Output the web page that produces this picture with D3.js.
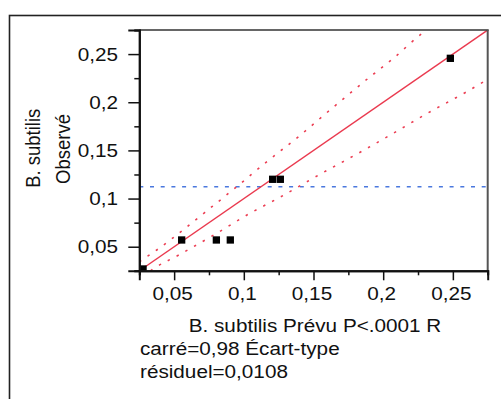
<!DOCTYPE html>
<html>
<head>
<meta charset="utf-8">
<script src="https://cdn.jsdelivr.net/npm/d3@7"></script>
<style>
  html, body { margin: 0; padding: 0; background: #fff; }
  svg { display: block; }
  text { font-family: "Liberation Sans", Arial, sans-serif; fill: #111; }
</style>
</head>
<body>
<svg id="chart" width="501" height="399"></svg>
<script>
// Observed vs predicted values (B. subtilis)
const predicted = [0.0277, 0.0554, 0.0803, 0.0903, 0.1207, 0.1262, 0.2482];
const observed  = [0.0269, 0.0570, 0.0570, 0.0570, 0.1200, 0.1200, 0.2456];

// Fitted line (slope, intercept) and mean of observed
const fitCoef = [1.0, 0.0];
const meanObserved = [0.1122];

// Confidence curves around the fit
const upperBandX = [0.0250, 0.0262, 0.0375, 0.0494, 0.0721, 0.0949, 0.1171, 0.1398, 0.1618, 0.1893, 0.2073, 0.2288, 0.2310];
const upperBandY = [0.0343, 0.0355, 0.0466, 0.0594, 0.0857, 0.1123, 0.1390, 0.1649, 0.1919, 0.2249, 0.2456, 0.2726, 0.2750];
const lowerBandX = [0.0330, 0.0346, 0.0542, 0.0793, 0.1044, 0.1236, 0.1559, 0.1821, 0.2073, 0.2324, 0.2587, 0.2718, 0.2750];
const lowerBandY = [0.0250, 0.0266, 0.0421, 0.0629, 0.0847, 0.0995, 0.1262, 0.1470, 0.1678, 0.1891, 0.2099, 0.2210, 0.2237];

// Axis ticks
const majorTicks = [0.05, 0.10, 0.15, 0.20, 0.25];
const minorTicks = [0.025, 0.075, 0.125, 0.175, 0.225, 0.275];
const tickLabels = ["0,05", "0,1", "0,15", "0,2", "0,25"];

// Texts
const yTitle = ["B. subtilis", "Observé"];
const xTitle = "B. subtilis Prévu P<.0001 R";
const statsLines = ["carré=0,98 Écart-type", "résiduel=0,0108"];

const svg = d3.select("#chart");
const X0 = 139.3, X1 = 487.7, Y0 = 270.8, Y1 = 30;
const x = d3.scaleLinear().domain([0.025, 0.275]).range([X0, X1]);
const y = d3.scaleLinear().domain([0.025, 0.275]).range([Y0, Y1]);
const STRETCH = 1.12;
const FS = 18.5;

// outer frame (runs past the right and bottom edges)
svg.append("rect")
  .attr("x", 9.5).attr("y", 15.5).attr("width", 700).attr("height", 700)
  .attr("fill", "none").attr("stroke", "#222").attr("stroke-width", 1.6);

svg.append("defs").append("clipPath").attr("id", "plotClip")
  .append("rect").attr("x", X0).attr("y", Y1).attr("width", X1 - X0).attr("height", Y0 - Y1);

const plot = svg.append("g").attr("clip-path", "url(#plotClip)");

// mean line
plot.append("line")
  .attr("x1", X0).attr("x2", X1)
  .attr("y1", y(meanObserved[0])).attr("y2", y(meanObserved[0]))
  .attr("stroke", "#4a78de").attr("stroke-width", 1.6)
  .attr("stroke-dasharray", "4 6.7");

// confidence curves
const band = d3.line().x(d => x(d[0])).y(d => y(d[1])).curve(d3.curveMonotoneX);
[[upperBandX, upperBandY], [lowerBandX, lowerBandY]].forEach(([bx, by]) => {
  plot.append("path")
    .attr("d", band(bx.map((v, i) => [v, by[i]])))
    .attr("fill", "none").attr("stroke", "#ec3d52").attr("stroke-width", 1.6)
    .attr("stroke-dasharray", "2.4 7.6");
});

// fit line across the domain
const dom = x.domain();
plot.append("line")
  .attr("x1", x(dom[0])).attr("y1", y(fitCoef[0] * dom[0] + fitCoef[1]))
  .attr("x2", x(dom[1])).attr("y2", y(fitCoef[0] * dom[1] + fitCoef[1]))
  .attr("stroke", "#ea3a4f").attr("stroke-width", 1.4);

// points
const S = 7.3;
plot.selectAll("rect.pt").data(predicted.map((p, i) => [p, observed[i]]))
  .join("rect").attr("class", "pt")
  .attr("x", d => x(d[0]) - S / 2).attr("y", d => y(d[1]) - S / 2)
  .attr("width", S).attr("height", S).attr("fill", "#000");

// plot frame: top and right
svg.append("line").attr("x1", X0).attr("x2", X1 + 1).attr("y1", Y1).attr("y2", Y1)
  .attr("stroke", "#333").attr("stroke-width", 1.5);
svg.append("line").attr("x1", X1).attr("x2", X1).attr("y1", Y1).attr("y2", Y0)
  .attr("stroke", "#555").attr("stroke-width", 2);

// axes
const yAxis = svg.append("g").attr("transform", `translate(${X0},0)`)
  .call(d3.axisLeft(y).tickValues(majorTicks).tickSize(11).tickFormat(""));
svg.append("g").attr("transform", `translate(${X0},0)`)
  .call(d3.axisLeft(y).tickValues(minorTicks).tickSize(5).tickFormat(""));
const xAxis = svg.append("g").attr("transform", `translate(0,${Y0})`)
  .call(d3.axisBottom(x).tickValues(majorTicks).tickSize(9.5).tickFormat(""));
svg.append("g").attr("transform", `translate(0,${Y0})`)
  .call(d3.axisBottom(x).tickValues(minorTicks).tickSize(4.5).tickFormat(""));
svg.selectAll(".domain").attr("stroke", "#111").attr("stroke-width", 2);
svg.selectAll(".tick line").attr("stroke", "#111").attr("stroke-width", 1.5);

// tick labels (wide glyphs)
majorTicks.forEach((t, i) => {
  svg.append("text")
    .attr("transform", `translate(118,${y(t) + 6.6}) scale(${STRETCH},1)`)
    .attr("text-anchor", "end").attr("font-size", FS).text(tickLabels[i]);
  svg.append("text")
    .attr("transform", `translate(${x(t) - 1.5},300) scale(${STRETCH},1)`)
    .attr("text-anchor", "middle").attr("font-size", FS).text(tickLabels[i]);
});

// titles
svg.append("text")
  .attr("transform", `translate(315,331.5) scale(${STRETCH},1)`)
  .attr("text-anchor", "middle").attr("font-size", FS).text(xTitle);
[[39.5, 148.3], [70, 149]].forEach(([bx, cy], i) => {
  svg.append("text")
    .attr("transform", `translate(${bx},${cy}) scale(${STRETCH},1) rotate(-90)`)
    .attr("text-anchor", "middle").attr("font-size", FS).text(yTitle[i]);
});

// fit statistics
statsLines.forEach((s, i) => {
  svg.append("text")
    .attr("transform", `translate(140,${354.5 + i * 23.8}) scale(${STRETCH},1)`)
    .attr("font-size", FS).text(s);
});
</script>
</body>
</html>
